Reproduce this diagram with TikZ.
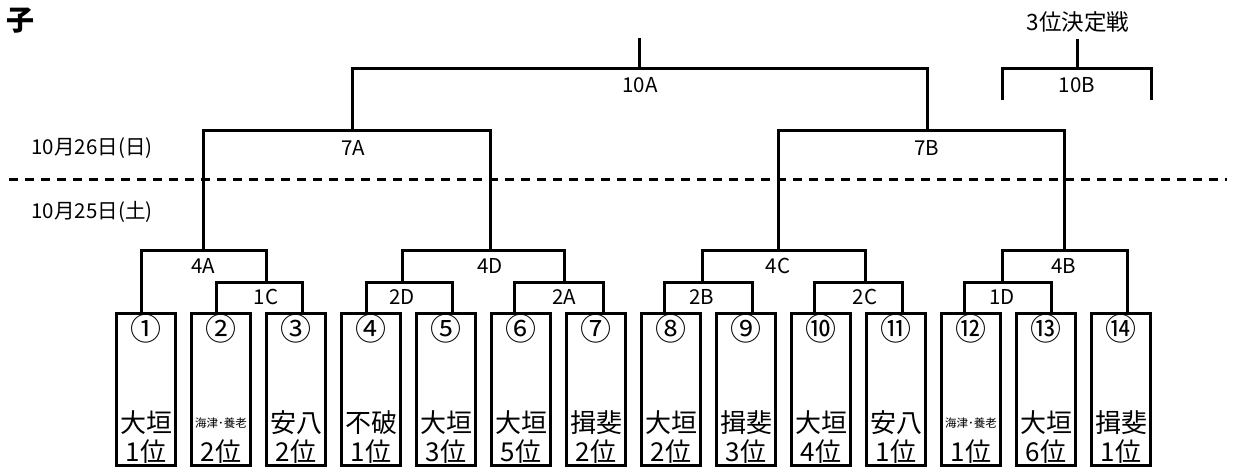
\documentclass[tikz,border=0pt]{standalone}
\usepackage{fontspec}
\setmainfont{Noto Sans CJK JP}
\usetikzlibrary{calc}
\tikzset{
  ln/.style={line width=3pt},
  box/.style={draw, line width=3pt, minimum width=59pt, minimum height=152.5pt, inner sep=0pt},
  lbl/.style={font=\fontsize{20.5}{20.5}\selectfont, inner sep=0pt},
  datelbl/.style={font=\fontsize{20.5}{20.5}\selectfont, inner sep=0pt},
  circ/.style={font=\fontsize{31}{31}\selectfont, inner sep=0pt},
  bigname/.style={font=\fontsize{26}{26}\selectfont, inner sep=0pt},
  smallname/.style={font=\fontsize{11.5}{11.5}\selectfont, inner sep=0pt},
  rank/.style={font=\fontsize{26}{26}\selectfont, inner sep=0pt},
  ttl/.style={font=\fontsize{22.5}{22.5}\selectfont, inner sep=0pt},
  dashline/.style={line width=3pt, dash pattern=on 9pt off 7pt},
}
\begin{document}
\begin{tikzpicture}[x=1pt,y=-1pt]
\useasboundingbox (0,0) rectangle (1233,470);
% title
\node[font=\fontsize{28}{28}\selectfont\bfseries, inner sep=0pt] (child) at (20,21) {子};
\node[ttl] (third) at (1078,22) {3位決定戦};
% dates
\node[datelbl] (d26) at (92,148) {10月26日(日)};
\node[datelbl] (d25) at (92,212) {10月25日(土)};
\coordinate (dl) at (9,180);
\coordinate (dr) at (1227,180);
\draw[dashline] (dl) -- (dr);
% boxes
\foreach \i/\c/\nm/\st/\rk in {1/①/大垣/bigname/1位, 2/②/海津･養老/smallname/2位, 3/③/安八/bigname/2位,
  4/④/不破/bigname/1位, 5/⑤/大垣/bigname/3位, 6/⑥/大垣/bigname/5位, 7/⑦/揖斐/bigname/2位,
  8/⑧/大垣/bigname/2位, 9/⑨/揖斐/bigname/3位, 10/⑩/大垣/bigname/4位, 11/⑪/安八/bigname/1位,
  12/⑫/海津･養老/smallname/1位, 13/⑬/大垣/bigname/6位, 14/⑭/揖斐/bigname/1位}{
  \node[box] (b\i) at ({146+75*(\i-1)},389.25) {};
  \node[circ] (c\i) at ({146+75*(\i-1)},329) {\c};
  \node[\st] (n\i) at ({146+75*(\i-1)},423) {\nm};
  \node[rank] (r\i) at ({146+75*(\i-1)},452) {\rk};
}
% attachment points on box tops
\foreach \i/\dx in {1/-5, 2/-5, 3/6, 4/-5, 5/6, 6/-7, 7/7, 8/-7, 9/6, 10/-7, 11/6, 12/-7, 13/5, 14/6}{
  \coordinate (a\i) at ($(b\i.north)+(\dx,0)$);
}
% match points
\coordinate (m1C) at (266,282);
\coordinate (m2D) at (402,282);
\coordinate (m2A) at (564,282);
\coordinate (m2B) at (702,282);
\coordinate (m2C) at (865,282);
\coordinate (m1D) at (1002,282);
\coordinate (m4A) at (203,251);
\coordinate (m4D) at (490,251);
\coordinate (m4C) at (778,251);
\coordinate (m4B) at (1064,251);
\coordinate (m7A) at (352,131);
\coordinate (m7B) at (927,131);
\coordinate (m10A) at (639,69);
\coordinate (t10A) at (639,38);
\coordinate (m10B) at (1077,69);
\coordinate (t10B) at (1077,39);
\coordinate (l10B) at (1002,100);
\coordinate (r10B) at (1151,100);
% brackets
\draw[ln] (a2) |- (m1C) -| (a3);
\draw[ln] (a4) |- (m2D) -| (a5);
\draw[ln] (a6) |- (m2A) -| (a7);
\draw[ln] (a8) |- (m2B) -| (a9);
\draw[ln] (a10) |- (m2C) -| (a11);
\draw[ln] (a12) |- (m1D) -| (a13);
\draw[ln] (a1) |- (m4A) -| (m1C);
\draw[ln] (m2D) |- (m4D) -| (m2A);
\draw[ln] (m2B) |- (m4C) -| (m2C);
\draw[ln] (m1D) |- (m4B) -| (a14);
\draw[ln] (m4A) |- (m7A) -| (m4D);
\draw[ln] (m4C) |- (m7B) -| (m4B);
\draw[ln] (m7A) |- (m10A) -| (m7B);
\draw[ln] (m10A) -- (t10A);
\draw[ln] (l10B) |- (m10B) -| (r10B);
\draw[ln] (m10B) -- (t10B);
% labels
\node[lbl] (L1C) at (266,297) {1C};
\node[lbl] (L2D) at (402,297) {2D};
\node[lbl] (L2A) at (564,297) {2A};
\node[lbl] (L2B) at (702,297) {2B};
\node[lbl] (L2C) at (865,297) {2C};
\node[lbl] (L1D) at (1002,297) {1D};
\node[lbl] (L4A) at (203,266) {4A};
\node[lbl] (L4D) at (490,266) {4D};
\node[lbl] (L4C) at (778,266) {4C};
\node[lbl] (L4B) at (1064,266) {4B};
\node[lbl] (L7A) at (353,148) {7A};
\node[lbl] (L7B) at (927,148) {7B};
\node[lbl] (L10A) at (640,85) {10A};
\node[lbl] (L10B) at (1077,85) {10B};
\end{tikzpicture}
\end{document}
